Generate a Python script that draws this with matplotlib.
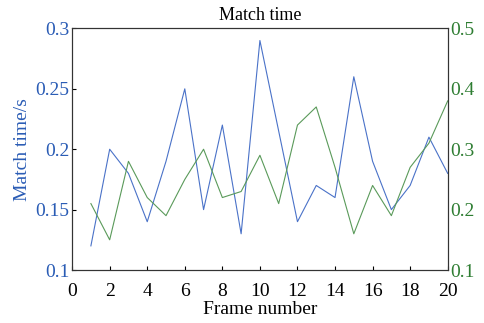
import matplotlib
matplotlib.use("Agg")
import matplotlib.pyplot as plt

frames = list(range(1, 21))
match_time_left = [0.12, 0.20, 0.18, 0.14, 0.19, 0.25, 0.15, 0.22, 0.13, 0.29,
                   0.215, 0.14, 0.17, 0.16, 0.26, 0.19, 0.15, 0.17, 0.21, 0.18]
match_time_right = [0.21, 0.15, 0.28, 0.22, 0.19, 0.25, 0.30, 0.22, 0.23, 0.29,
                    0.21, 0.34, 0.37, 0.27, 0.16, 0.24, 0.19, 0.27, 0.31, 0.38]
xticks = list(range(0, 21, 2))
left_ticks = [0.1, 0.15, 0.2, 0.25, 0.3]
left_labels = ["0.1", "0.15", "0.2", "0.25", "0.3"]
right_ticks = [0.1, 0.2, 0.3, 0.4, 0.5]
right_labels = ["0.1", "0.2", "0.3", "0.4", "0.5"]

plt.rcParams['font.family'] = ['Liberation Serif', 'DejaVu Serif']
blue = "#2a5cb5"
green = "#2e7d32"
blue_line = "#4a72c8"
green_line = "#5a9a5a"

fig = plt.figure(figsize=(4.84, 3.23), dpi=100)
ax = fig.add_axes([0.149, 0.164, 0.776, 0.748])
ax.plot(frames, match_time_left, color=blue_line, lw=0.8)
ax.set_xlim(0, 20)
ax.set_ylim(0.1, 0.3)
ax.set_xticks(xticks)
ax.set_yticks(left_ticks)
ax.set_yticklabels(left_labels)
ax.tick_params(axis='both', direction='in', length=3, width=0.8, labelsize=14)
ax.tick_params(axis='y', colors='black', labelcolor=blue, pad=2)
ax.tick_params(axis='x', pad=9)
ax.set_xlabel("Frame number", fontsize=14, labelpad=1)
ax.set_ylabel("Match time/s", fontsize=14, color=blue, labelpad=3)
ax.set_title("Match time", fontsize=13, pad=6)
for s in ax.spines.values():
    s.set_linewidth(0.8)
    s.set_color("#333333")

ax2 = ax.twinx()
ax2.plot(frames, match_time_right, color=green_line, lw=0.8)
ax2.set_ylim(0.1, 0.5)
ax2.set_yticks(right_ticks)
ax2.set_yticklabels(right_labels)
ax2.tick_params(axis='y', direction='in', length=0, labelsize=14, labelcolor=green, pad=2)
for s in ax2.spines.values():
    s.set_linewidth(0.8)
    s.set_color("#333333")

fig.savefig("out.png", dpi=100)
